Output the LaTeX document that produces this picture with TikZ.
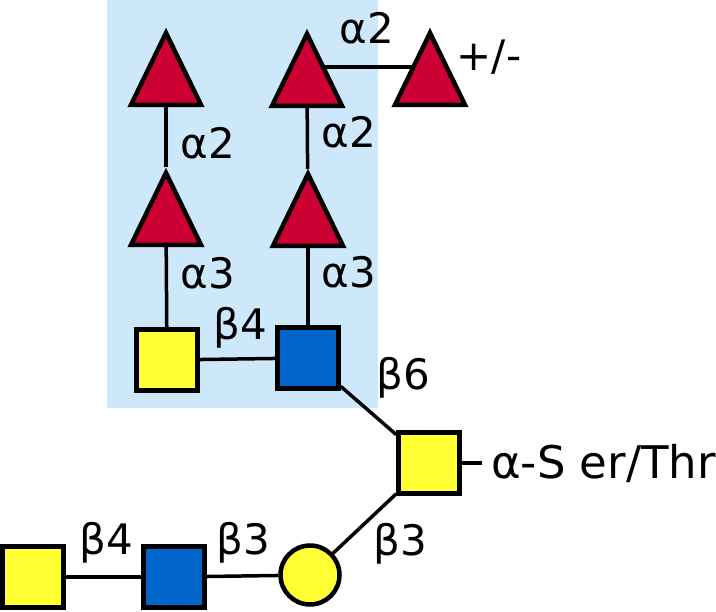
\documentclass[tikz,border=0pt]{standalone}
\usepackage{fontspec}
\setmainfont{DejaVu Sans}
\usetikzlibrary{shapes.geometric,backgrounds}
\definecolor{glyred}{HTML}{CC0033}
\definecolor{glyblue}{HTML}{0066CC}
\definecolor{glyyellow}{HTML}{FFFF33}
\definecolor{panelblue}{HTML}{CCE8FA}
\tikzset{
	glyph/.style={draw, line width=4.5pt, inner sep=0pt},
	fuc/.style={glyph, fill=glyred, isosceles triangle, isosceles triangle stretches, shape border rotate=90, minimum width=70pt, minimum height=72pt, anchor=apex},
	galnac/.style={glyph, fill=glyyellow, rectangle, minimum size=61pt},
	glcnac/.style={glyph, fill=glyblue, rectangle, minimum size=61pt},
	gal/.style={glyph, fill=glyyellow, circle, minimum size=59pt},
	link/.style={line width=3.5pt},
	lbl/.style={font=\fontsize{42}{42}\selectfont, inner sep=0pt},
}
\begin{document}
\begin{tikzpicture}[x=1pt, y=-1pt]
	\useasboundingbox (0,0) rectangle (716,612);

	\node[fuc]    (fucA)    at (166, 27) {};
	\node[fuc]    (fucB)    at (166,167) {};
	\node[fuc]    (fucC)    at (307, 28) {};
	\node[fuc]    (fucD)    at (308,168) {};
	\node[fuc]    (fucE)    at (430, 27) {};
	\node[galnac] (galnacA) at (167,360) {};
	\node[glcnac] (glcnacA) at (308,358) {};
	\node[galnac] (core)    at (429,463) {};
	\node[galnac] (galnacB) at ( 33,577) {};
	\node[glcnac] (glcnacB) at (174,577) {};
	\node[gal]    (gal)     at (310,575) {};

	\node[lbl] (lA2)  at (208,143) {α2};
	\node[lbl] (lA3)  at (208,273) {α3};
	\node[lbl] (lC2)  at (349,132) {α2};
	\node[lbl] (lD3)  at (349,272) {α3};
	\node[lbl] (lE2)  at (367, 28) {α2};
	\node[lbl] (lpm)  at (489, 57) {+/-};
	\node[lbl] (lB4)  at (240,328) {β4};
	\node[lbl] (lB6)  at (403,378) {β6};
	\node[lbl] (lG3)  at (400,544) {β3};
	\node[lbl] (lN4)  at (106,543) {β4};
	\node[lbl] (lN3)  at (243,543) {β3};
	\node[lbl, font=\fontsize{45}{45}\selectfont, anchor=west, inner xsep=9pt] (ser) at (482,463) {α-S er/Thr};

	\draw[link] (fucA) -- (fucB);
	\draw[link] (fucB) -- (galnacA);
	\draw[link] (fucC) -- (fucD);
	\draw[link] (fucD) -- (glcnacA);
	\draw[link] (galnacA) -- (glcnacA);
	\draw[link] (glcnacA) -- (core);
	\draw[link] (gal) -- (core);
	\draw[link] (galnacB) -- (glcnacB);
	\draw[link] (glcnacB) -- (gal);
	\draw[link] (core) -- (ser.west);

	\begin{scope}[on background layer]
		\fill[panelblue] (107,0) rectangle (378,408);
		\draw[link] (fucC.apex |- 0,67) -- (fucE.apex |- 0,67);
	\end{scope}
\end{tikzpicture}
\end{document}
